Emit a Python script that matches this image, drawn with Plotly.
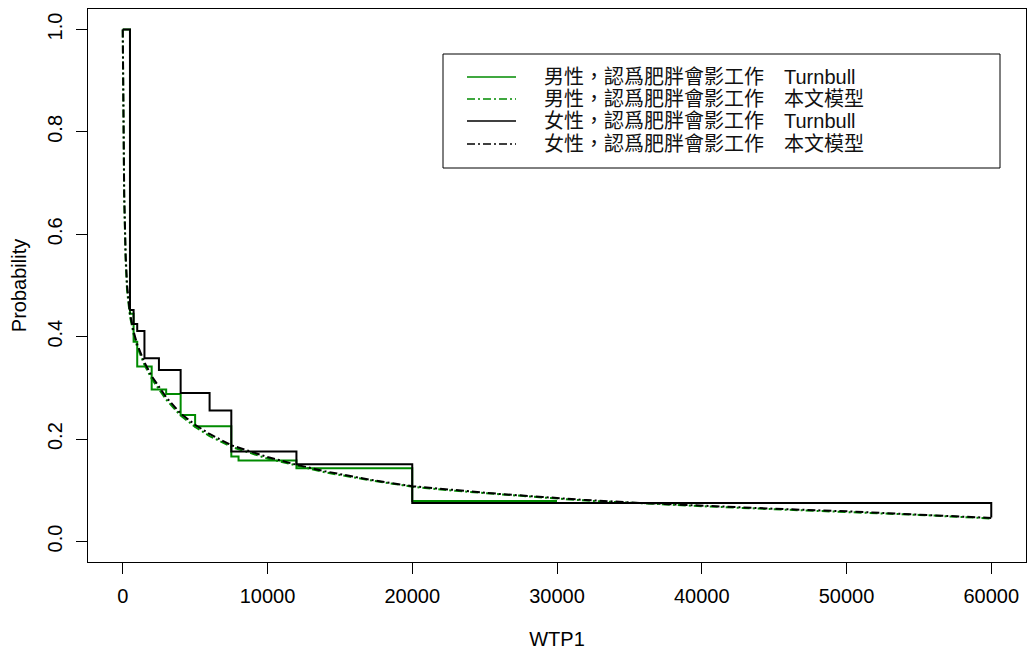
import plotly.graph_objects as go

# ---- data ----
male_tb_x = [0, 500, 750, 1000, 2000, 3000, 4000, 5000, 7500, 8000, 12000, 20000, 30000]
male_tb_y = [1.0, 0.445, 0.39, 0.342, 0.297, 0.288, 0.247, 0.225, 0.166, 0.158, 0.143, 0.079, 0.079]

female_tb_x = [0, 500, 750, 1000, 1500, 2500, 4000, 6000, 7500, 12000, 20000, 60000]
female_tb_y = [1.0, 0.452, 0.425, 0.411, 0.358, 0.335, 0.290, 0.256, 0.176, 0.151, 0.075, 0.047]

model_x = [0, 25, 50, 100, 200, 300, 500, 750, 1000, 1500, 2000, 3000, 4000, 5000, 6000,
           7500, 10000, 12000, 14000, 17000, 20000, 23000, 26000, 29000, 32000, 36000,
           40000, 45000, 50000, 55000, 60000]
female_model_y = [1.0, 0.90, 0.80, 0.68, 0.56, 0.50, 0.445, 0.41, 0.385, 0.35, 0.323, 0.282,
                  0.250, 0.228, 0.210, 0.188, 0.165, 0.150, 0.137, 0.121, 0.108, 0.100, 0.093,
                  0.087, 0.081, 0.075, 0.070, 0.064, 0.059, 0.053, 0.046]
male_model_y = [1.0, 0.89, 0.79, 0.67, 0.55, 0.49, 0.44, 0.405, 0.38, 0.345, 0.318, 0.277,
                0.246, 0.224, 0.206, 0.185, 0.162, 0.148, 0.135, 0.120, 0.107, 0.099, 0.092,
                0.086, 0.080, 0.074, 0.069, 0.063, 0.058, 0.052, 0.045]

legend_labels = ["男性，認爲肥胖會影工作\u3000Turnbull",
                 "男性，認爲肥胖會影工作\u3000本文模型",
                 "女性，認爲肥胖會影工作\u3000Turnbull",
                 "女性，認爲肥胖會影工作\u3000本文模型"]

x_ticks = [0, 10000, 20000, 30000, 40000, 50000, 60000]
y_ticks = [0.0, 0.2, 0.4, 0.6, 0.8, 1.0]

GREEN = "#008B00"
BLACK = "#000000"
DASHDOT = "8px,3px,2px,3px"
FONT = "Liberation Sans, Arial, Noto Sans CJK TC, sans-serif"

W, H = 1027, 652
ML, MR, MT, MB = 88, 1, 9, 90
PW, PH = W - ML - MR, H - MT - MB

def px2x(px):
    return (px - ML) / PW

def px2y(py):
    return (H - MB - py) / PH

fig = go.Figure()
fig.add_trace(go.Scatter(x=male_tb_x, y=male_tb_y, mode="lines", line_shape="hv",
                         line=dict(color=GREEN, width=2), name=legend_labels[0]))
fig.add_trace(go.Scatter(x=model_x, y=male_model_y, mode="lines",
                         line=dict(color=GREEN, width=2, dash=DASHDOT), name=legend_labels[1]))
fig.add_trace(go.Scatter(x=female_tb_x, y=female_tb_y, mode="lines", line_shape="hv",
                         line=dict(color=BLACK, width=2), name=legend_labels[2]))
fig.add_trace(go.Scatter(x=model_x, y=female_model_y, mode="lines",
                         line=dict(color=BLACK, width=2, dash=DASHDOT), name=legend_labels[3]))

# legend drawn as a framed box
shapes = [dict(type="rect", xref="paper", yref="paper",
               x0=px2x(443), x1=px2x(1000), y0=px2y(168), y1=px2y(54),
               line=dict(color="black", width=1), fillcolor="white", layer="above")]
annotations = []
row_y = [77, 99, 121, 144]
styles = [(GREEN, "solid"), (GREEN, DASHDOT), (BLACK, "solid"), (BLACK, DASHDOT)]
for lab, ry, (col, dsh) in zip(legend_labels, row_y, styles):
    shapes.append(dict(type="line", xref="paper", yref="paper",
                       x0=px2x(467), x1=px2x(516), y0=px2y(ry), y1=px2y(ry),
                       line=dict(color=col, width=1.5, dash=dsh), layer="above"))
    annotations.append(dict(text=lab, xref="paper", yref="paper", x=px2x(542), y=px2y(ry),
                            xanchor="left", yanchor="middle", showarrow=False,
                            font=dict(size=20, color="#111111", family=FONT)))

fig.update_layout(
    width=W, height=H,
    margin=dict(l=ML, r=MR, t=MT, b=MB),
    paper_bgcolor="white", plot_bgcolor="white",
    showlegend=False,
    font=dict(family=FONT, size=20, color="black"),
    shapes=shapes, annotations=annotations,
)
fig.update_xaxes(range=[-2400, 62400], tickvals=x_ticks, ticktext=[str(v) for v in x_ticks],
                 ticks="outside", ticklen=11, tickcolor="black", showgrid=False, zeroline=False,
                 showline=True, linecolor="black", linewidth=1, mirror=True,
                 ticklabelstandoff=5,
                 title=dict(text="WTP1", standoff=25, font=dict(size=20)))
fig.update_yaxes(range=[-0.04, 1.04], tickvals=y_ticks, ticktext=[f"{v:.1f}" for v in y_ticks],
                 tickangle=-90, ticks="outside", ticklen=11, tickcolor="black",
                 showgrid=False, zeroline=False,
                 showline=True, linecolor="black", linewidth=1, mirror=True,
                 ticklabelstandoff=6,
                 title=dict(text="Probability", standoff=12, font=dict(size=20)))

fig.write_html("out.html")
